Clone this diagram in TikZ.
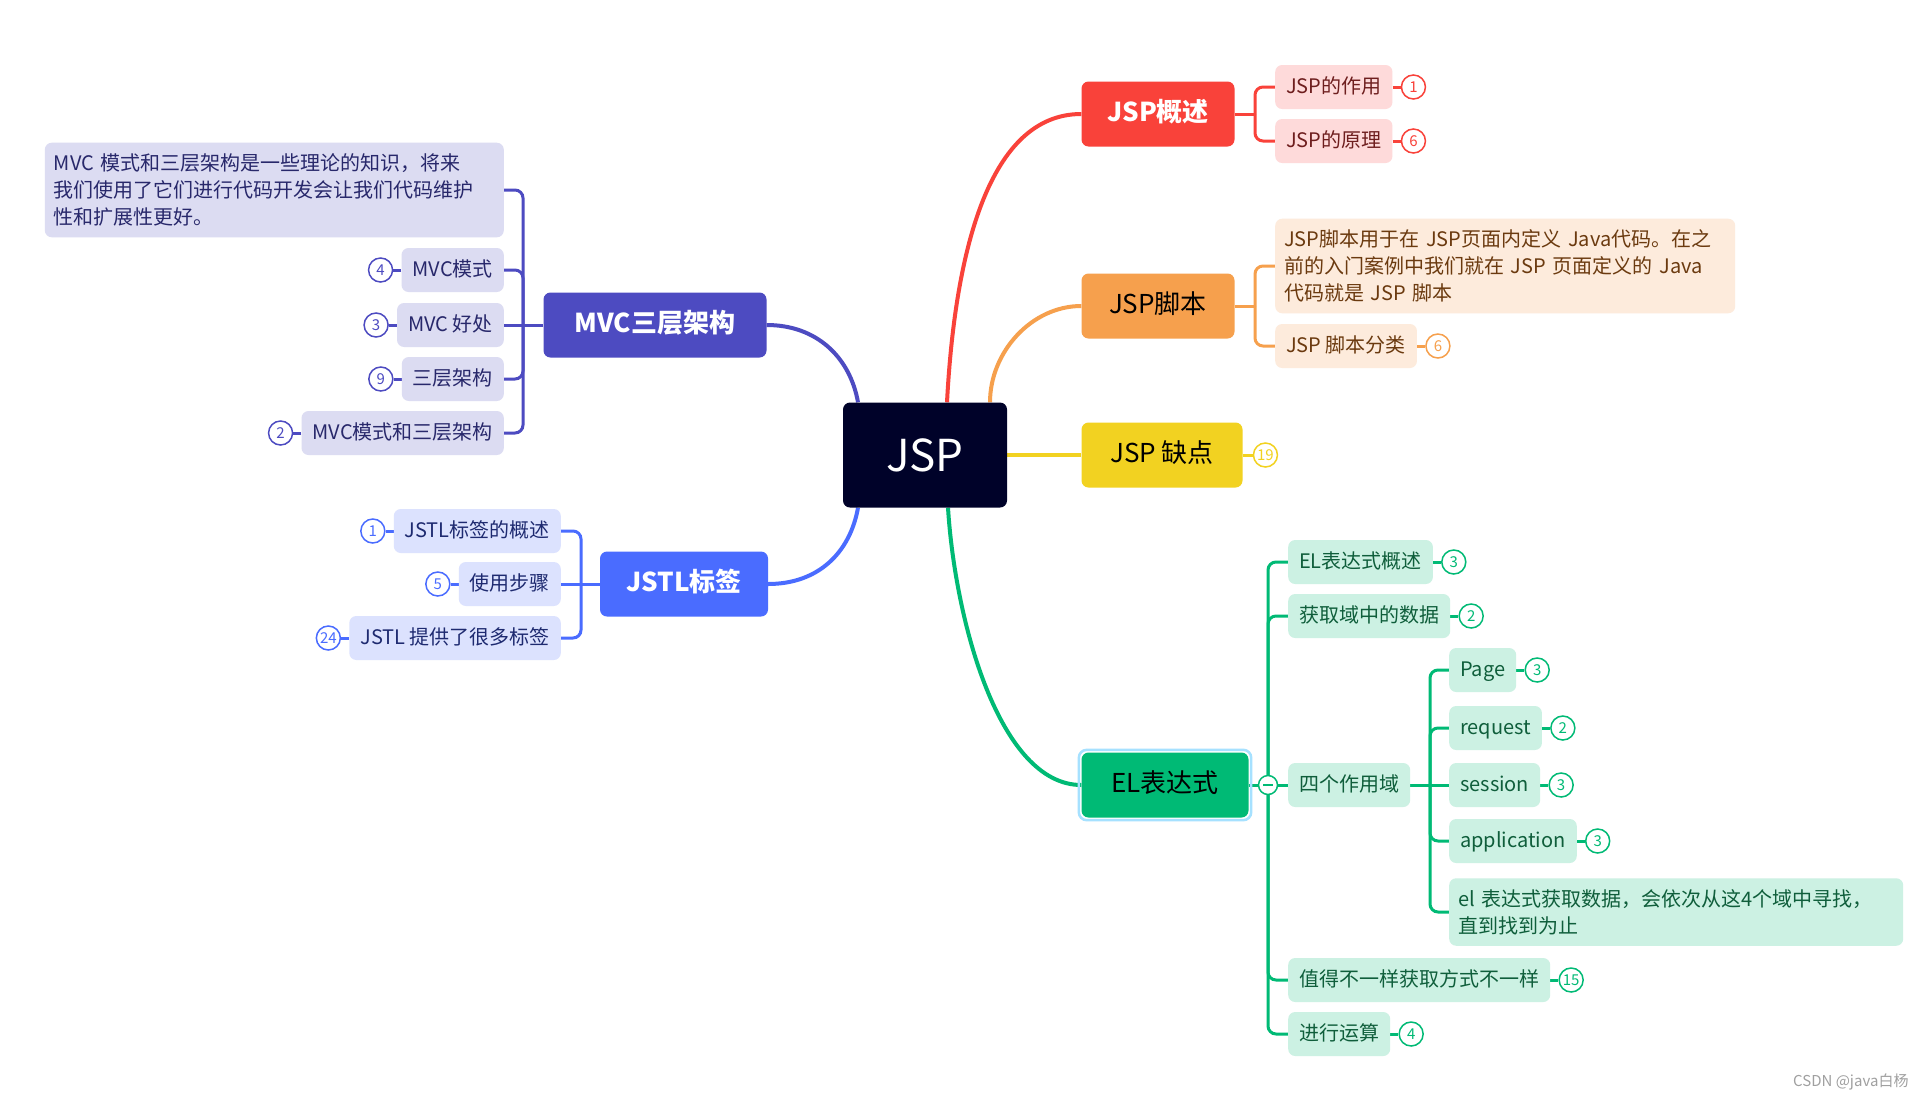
\documentclass[tikz,border=0pt]{standalone}
\usepackage{fontspec}
\setmainfont{Noto Sans CJK SC}
\usepackage{xcolor}
\usepackage{tikz}
\usetikzlibrary{positioning,fit,backgrounds}
\definecolor{jspnavy}{HTML}{000229}
\definecolor{jspred}{HTML}{F9423A}
\definecolor{jspredbg}{HTML}{FEDADA}
\definecolor{jspredtx}{HTML}{6E1E1E}
\definecolor{jsporange}{HTML}{F6A04D}
\definecolor{jsporangebg}{HTML}{FDEBDC}
\definecolor{jsporangetx}{HTML}{6B3A0F}
\definecolor{jspyellow}{HTML}{F2D221}
\definecolor{mvcpurple}{HTML}{4D4BC1}
\definecolor{mvcpurplebg}{HTML}{DCDCF2}
\definecolor{mvcpurpletx}{HTML}{28286B}
\definecolor{jstlblue}{HTML}{4A6CFF}
\definecolor{jstlbluebg}{HTML}{DCE2FE}
\definecolor{jstlbluetx}{HTML}{1E2A70}
\definecolor{elgreen}{HTML}{00BA75}
\definecolor{elgreenbg}{HTML}{CCF1E3}
\definecolor{elgreentx}{HTML}{0F5E3B}
\definecolor{selblue}{HTML}{A6E1FF}
\definecolor{markgray}{HTML}{A0A0A0}
\tikzset{
    root/.style={
        rectangle, rounded corners=7pt,
        fill=jspnavy, text=white,
        minimum width=164pt, minimum height=105pt,
        font=\fontsize{44}{44}\selectfont
    },
    topic/.style={
        rectangle, rounded corners=7pt,
        minimum height=65pt, inner xsep=0pt,
        text height=20pt, text depth=5pt,
        font=\fontsize{26}{26}\selectfont
    },
    leaf/.style={
        rectangle, rounded corners=7pt,
        minimum height=44pt, inner xsep=11pt,
        text height=16pt, text depth=4pt,
        font=\fontsize{20}{20}\selectfont
    },
    note/.style={
        rectangle, rounded corners=7pt,
        inner xsep=9pt, inner ysep=11pt, align=left,
        font=\fontsize{20}{27}\selectfont
    },
    badge/.style={
        circle, draw, line width=1.5pt, fill=white,
        minimum size=24pt, inner sep=0pt,
        font=\fontsize{15}{15}\selectfont
    },
    redleaf/.style={leaf, fill=jspredbg, text=jspredtx},
    orangeleaf/.style={leaf, fill=jsporangebg, text=jsporangetx},
    purpleleaf/.style={leaf, fill=mvcpurplebg, text=mvcpurpletx},
    blueleaf/.style={leaf, fill=jstlbluebg, text=jstlbluetx},
    greenleaf/.style={leaf, fill=elgreenbg, text=elgreentx},
    link/.style={line width=4pt},
    branch/.style={line width=3pt, rounded corners=8pt},
}

\begin{document}
\begin{tikzpicture}[x=1pt, y=-1pt]

    \path[use as bounding box] (0,0) rectangle (1927,1101);

    % Nodes
    \node[root] (jsp) at (925,455) {JSP};

    \node[topic, fill=jspred, text=white, font=\fontsize{26}{26}\selectfont\bfseries, minimum width=153pt] (ovw) at (1158,114) {JSP概述};
    \node[topic, fill=jsporange, minimum width=153pt] (scr) at (1158,306) {JSP脚本};
    \node[topic, fill=jspyellow, minimum width=161pt] (dft) at (1162,455) {JSP 缺点};
    \node[topic, fill=mvcpurple, text=white, font=\fontsize{26}{26}\selectfont\bfseries, minimum width=223pt] (mvc) at (655,325) {MVC三层架构};
    \node[topic, fill=jstlblue, text=white, font=\fontsize{26}{26}\selectfont\bfseries, minimum width=168pt] (jstl) at (684,584) {JSTL标签};
    \node[topic, fill=elgreen, minimum width=167pt] (el) at (1165,785) {EL表达式};

    % JSP概述
    \node[redleaf, anchor=west] (ovw1) at (1275,87) {JSP的作用};
    \node[redleaf, anchor=west] (ovw2) at (1275,141) {JSP的原理};
    \node[badge, draw=jspred, text=jspred, right=8pt of ovw1] (ovw1n) {1};
    \node[badge, draw=jspred, text=jspred, right=8pt of ovw2] (ovw2n) {6};

    % JSP脚本
    \node[note, fill=jsporangebg, text=jsporangetx, text width=442pt, anchor=west] (scr1) at (1275,266)
        {JSP脚本用于在 JSP页面内定义 Java代码。在之\\前的入门案例中我们就在 JSP 页面定义的 Java\\代码就是 JSP 脚本};
    \node[orangeleaf, anchor=west] (scr2) at (1275,346) {JSP 脚本分类};
    \node[badge, draw=jsporange, text=jsporange, right=8pt of scr2] (scr2n) {6};

    % JSP 缺点
    \node[badge, draw=jspyellow, text=jspyellow, right=10pt of dft] (dftn) {19};

    % MVC三层架构
    \node[note, fill=mvcpurplebg, text=mvcpurpletx, text width=441pt, anchor=east] (mvc1) at (504,190)
        {MVC 模式和三层架构是一些理论的知识，将来\\我们使用了它们进行代码开发会让我们代码维护\\性和扩展性更好。};
    \node[purpleleaf, anchor=east] (mvc2) at (504,270) {MVC模式};
    \node[purpleleaf, anchor=east] (mvc3) at (504,325) {MVC 好处};
    \node[purpleleaf, anchor=east] (mvc4) at (504,379) {三层架构};
    \node[purpleleaf, anchor=east] (mvc5) at (504,433) {MVC模式和三层架构};
    \node[badge, draw=mvcpurple, text=mvcpurple, left=8pt of mvc2] (mvc2n) {4};
    \node[badge, draw=mvcpurple, text=mvcpurple, left=8pt of mvc3] (mvc3n) {3};
    \node[badge, draw=mvcpurple, text=mvcpurple, left=8pt of mvc4] (mvc4n) {9};
    \node[badge, draw=mvcpurple, text=mvcpurple, left=8pt of mvc5] (mvc5n) {2};

    % JSTL标签
    \node[blueleaf, anchor=east] (jstl1) at (561,531) {JSTL标签的概述};
    \node[blueleaf, anchor=east] (jstl2) at (561,584) {使用步骤};
    \node[blueleaf, anchor=east] (jstl3) at (561,638) {JSTL 提供了很多标签};
    \node[badge, draw=jstlblue, text=jstlblue, left=8pt of jstl1] (jstl1n) {1};
    \node[badge, draw=jstlblue, text=jstlblue, left=8pt of jstl2] (jstl2n) {5};
    \node[badge, draw=jstlblue, text=jstlblue, left=8pt of jstl3] (jstl3n) {24};

    % EL表达式
    \node[greenleaf, anchor=west] (el1) at (1288,562) {EL表达式概述};
    \node[greenleaf, anchor=west] (el2) at (1288,616) {获取域中的数据};
    \node[greenleaf, anchor=west] (el3) at (1288,785) {四个作用域};
    \node[greenleaf, anchor=west] (el4) at (1288,980) {值得不一样获取方式不一样};
    \node[greenleaf, anchor=west] (el5) at (1288,1034) {进行运算};
    \node[greenleaf, anchor=west] (sc1) at (1449,670) {Page};
    \node[greenleaf, anchor=west] (sc2) at (1449,728) {request};
    \node[greenleaf, anchor=west] (sc3) at (1449,785) {session};
    \node[greenleaf, anchor=west] (sc4) at (1449,841) {application};
    \node[note, fill=elgreenbg, text=elgreentx, text width=436pt, anchor=west] (sc5) at (1449,912)
        {el 表达式获取数据，会依次从这4个域中寻找，\\直到找到为止};
    \foreach \n/\v in {el1/3, el2/2, el4/15, el5/4, sc1/3, sc2/2, sc3/3, sc4/3}
        \node[badge, draw=elgreen, text=elgreen, right=8pt of \n] (\n n) {\v};

    % Watermark
    \node[anchor=east, text=markgray, font=\fontsize{15}{15}\selectfont] (mark) at (1912,1082) {CSDN @java白杨};

    % Connectors
    \begin{scope}[on background layer]
        \fill[white] (0,0) rectangle (1927,1101);

        \draw[link, jspred] ([xshift=22pt]jsp.north) .. controls +(8,-152) and +(-92,0) .. (ovw.west);
        \draw[link, jsporange] ([xshift=65pt]jsp.north) .. controls +(0,-50) and +(-50,0) .. (scr.west);
        \draw[link, jspyellow] (jsp.east) -- (dft.west);
        \draw[link, mvcpurple] ([xshift=-67pt]jsp.north) .. controls +(-8,-45) and +(50,0) .. (mvc.east);
        \draw[link, jstlblue] ([xshift=-67pt]jsp.south) .. controls +(-8,45) and +(50,0) .. (jstl.east);
        \draw[link, elgreen] ([xshift=23pt]jsp.south) .. controls +(7,113) and +(-82,0) .. (el.west);

        % brackets
        \coordinate (ovwj) at (1255,114);
        \draw[branch, jspred] (ovw.east) -- (ovwj);
        \foreach \n in {ovw1,ovw2}
            \draw[branch, jspred] (ovwj) |- (\n.west);
        \draw[branch, jspred] (ovw1) -- (ovw1n);
        \draw[branch, jspred] (ovw2) -- (ovw2n);

        \coordinate (scrj) at (1255,306);
        \draw[branch, jsporange] (scr.east) -- (scrj);
        \foreach \n in {scr1,scr2}
            \draw[branch, jsporange] (scrj) |- (\n.west);
        \draw[branch, jsporange] (scr2) -- (scr2n);

        \draw[branch, jspyellow] (dft) -- (dftn);

        \coordinate (mvcj) at (523,325);
        \draw[branch, mvcpurple] (mvc) -- (mvc3);
        \foreach \n in {mvc1,mvc2,mvc4,mvc5}
            \draw[branch, mvcpurple] (mvcj) |- (\n.east);
        \foreach \n in {mvc2,mvc3,mvc4,mvc5}
            \draw[branch, mvcpurple] (\n) -- (\n n);

        \coordinate (jstlj) at (581,584);
        \draw[branch, jstlblue] (jstl) -- (jstl2);
        \foreach \n in {jstl1,jstl3}
            \draw[branch, jstlblue] (jstlj) |- (\n.east);
        \foreach \n in {jstl1,jstl2,jstl3}
            \draw[branch, jstlblue] (\n) -- (\n n);

        \coordinate (elj) at (1268,785);
        \draw[branch, elgreen] (el) -- (el3);
        \foreach \n in {el1,el2,el4,el5}
            \draw[branch, elgreen] (elj) |- (\n.west);

        \coordinate (el3j) at (1430,785);
        \draw[branch, elgreen] (el3) -- (sc3);
        \foreach \n in {sc1,sc2,sc4,sc5}
            \draw[branch, elgreen] (el3j) |- (\n.west);
        \foreach \n in {el1,el2,el4,el5,sc1,sc2,sc3,sc4}
            \draw[branch, elgreen] (\n) -- (\n n);

        % selection frame
        \node[draw=selblue, line width=2.5pt, rounded corners=8pt, fit=(el), inner sep=2.5pt] (elsel) {};
    \end{scope}

    % collapse mark
    \node[circle, draw=elgreen, line width=1.5pt, fill=white, minimum size=19pt, inner sep=0pt] (elc) at (elj) {};
    \draw[elgreen, line width=1.5pt] ([xshift=-5pt]elc.center) -- ([xshift=5pt]elc.center);

\end{tikzpicture}
\end{document}
